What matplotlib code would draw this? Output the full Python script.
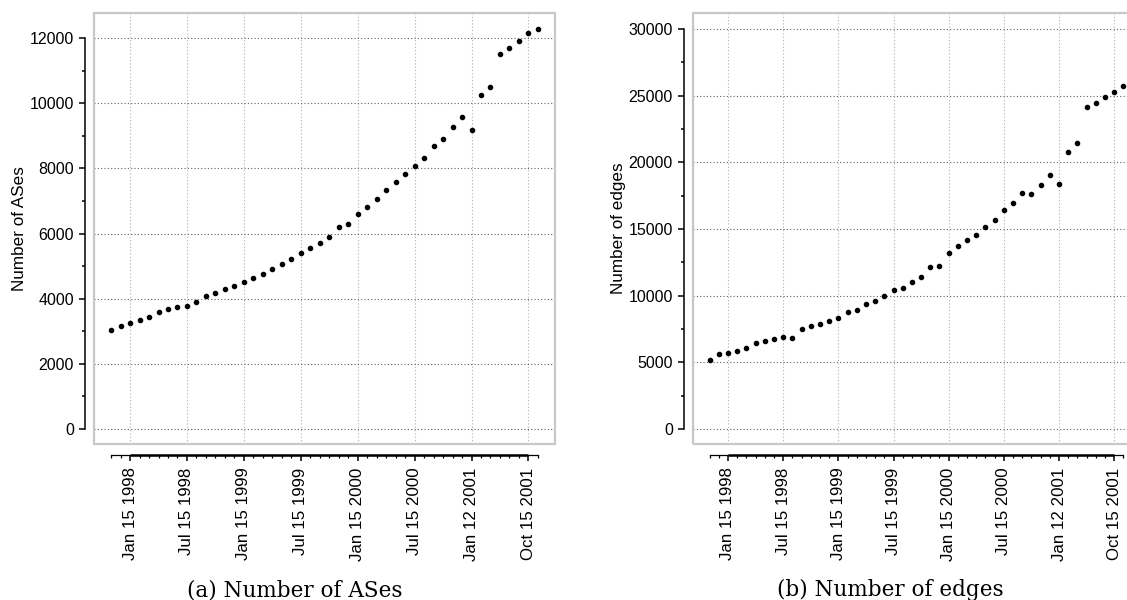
import numpy as np
import matplotlib
matplotlib.use("Agg")
import matplotlib.pyplot as plt
import matplotlib.transforms as mtransforms
from matplotlib.patches import Rectangle
from matplotlib.ticker import MultipleLocator

plt.rcParams['font.family'] = ['Liberation Sans', 'DejaVu Sans']

# snapshot dates (index on x axis), labelled every 6th snapshot
tick_pos = [2, 8, 14, 20, 26, 32, 38, 44]
tick_labels = ["Jan 15 1998", "Jul 15 1998", "Jan 15 1999", "Jul 15 1999",
               "Jan 15 2000", "Jul 15 2000", "Jan 12 2001", "Oct 15 2001"]

n_ases = [3030, 3160, 3263, 3355, 3447, 3581, 3673, 3735, 3786, 3909,
          4085, 4175, 4305, 4400, 4500, 4626, 4759, 4913, 5057, 5221,
          5395, 5549, 5723, 5898, 6195, 6287, 6585, 6800, 7067, 7344,
          7569, 7836, 8072, 8328, 8677, 8913, 9282, 9580, 9190, 10256,
          10492, 11518, 11692, 11897, 12164, 12287]

n_edges = [5150, 5625, 5700, 5825, 6075, 6425, 6625, 6775, 6900, 6850,
           7475, 7725, 7850, 8125, 8350, 8775, 8925, 9375, 9625, 9975,
           10425, 10575, 10990, 11400, 12175, 12225, 13200, 13725, 14200, 14525,
           15125, 15675, 16400, 16950, 17700, 17650, 18275, 19025, 18350, 20800,
           21425, 24175, 24475, 24925, 25300, 25725]

W, H = 1127, 600
fig = plt.figure(figsize=(W / 100, H / 100), dpi=100)


def px_axes(x0, x1, top, bottom):
    return fig.add_axes([x0 / W, 1 - bottom / H, (x1 - x0) / W, (bottom - top) / H])


def draw_panel(ax, values, ymax, ystep, ylim, ylabel, caption, cap_x):
    idx = np.arange(len(values))
    ax.set_xlim(-1.8, len(values) - 1 + 1.8)
    ax.set_ylim(*ylim)

    # grid
    for t in tick_pos:
        ax.axvline(t, color='#b0b0b0', lw=0.8, ls=(0, (1, 2)), zorder=0)
    for v in np.arange(0, ymax + 1, ystep):
        ax.axhline(v, color='#606060', lw=0.8, ls=(0, (1, 2)), zorder=0)

    ax.plot(idx, values, 'o', color='black', ms=3.0, zorder=3)

    # light grey box around plotting region
    ax.add_patch(Rectangle((0, 0), 1, 1, transform=ax.transAxes, fill=False,
                           edgecolor='#c8c8c8', lw=1.6, clip_on=False, zorder=1))

    for s in ['top', 'right']:
        ax.spines[s].set_visible(False)
    ax.spines['left'].set_position(('outward', 6.5))
    ax.spines['left'].set_bounds(0, ymax)
    ax.spines['left'].set_linewidth(1.1)
    ax.spines['bottom'].set_position(('outward', 8))
    ax.spines['bottom'].set_bounds(0, len(values) - 1)
    ax.spines['bottom'].set_linewidth(0.9)

    # heavier segment between first and last labelled tick
    off = mtransforms.ScaledTranslation(0, -8 / 72, fig.dpi_scale_trans)
    ax.plot([tick_pos[0], tick_pos[-1]], [0, 0], color='black', lw=1.8,
            transform=ax.get_xaxis_transform() + off, clip_on=False,
            solid_capstyle='butt')

    ax.set_yticks(np.arange(0, ymax + 1, ystep))
    ax.yaxis.set_minor_locator(MultipleLocator(ystep / 2))
    ax.set_xticks(tick_pos)
    ax.set_xticklabels(tick_labels, rotation=90)
    ax.set_xticks(idx, minor=True)

    ax.tick_params(axis='y', which='major', length=4.5, width=1.1, pad=3.5, labelsize=11.5)
    ax.tick_params(axis='y', which='minor', length=2.5, width=1.1)
    ax.tick_params(axis='x', which='major', length=4, width=1.1, pad=5, labelsize=12.2)
    ax.tick_params(axis='x', which='minor', length=2, width=0.9)

    ax.set_ylabel(ylabel, fontsize=12.3, labelpad=2)
    fig.text(cap_x / W, 1 - 596 / H, caption, ha='center', va='baseline',
             fontsize=15.5, family='DejaVu Serif')


ax1 = px_axes(94, 555, 13, 444)
draw_panel(ax1, n_ases, 12000, 2000, (-460, 12770), "Number of ASes",
           "(a) Number of ASes", 295)

ax2 = px_axes(693, 1140, 13, 444)
draw_panel(ax2, n_edges, 30000, 5000, (-1125, 31200), "Number of edges",
           "(b) Number of edges", 890)

fig.savefig("out.png", dpi=100)
